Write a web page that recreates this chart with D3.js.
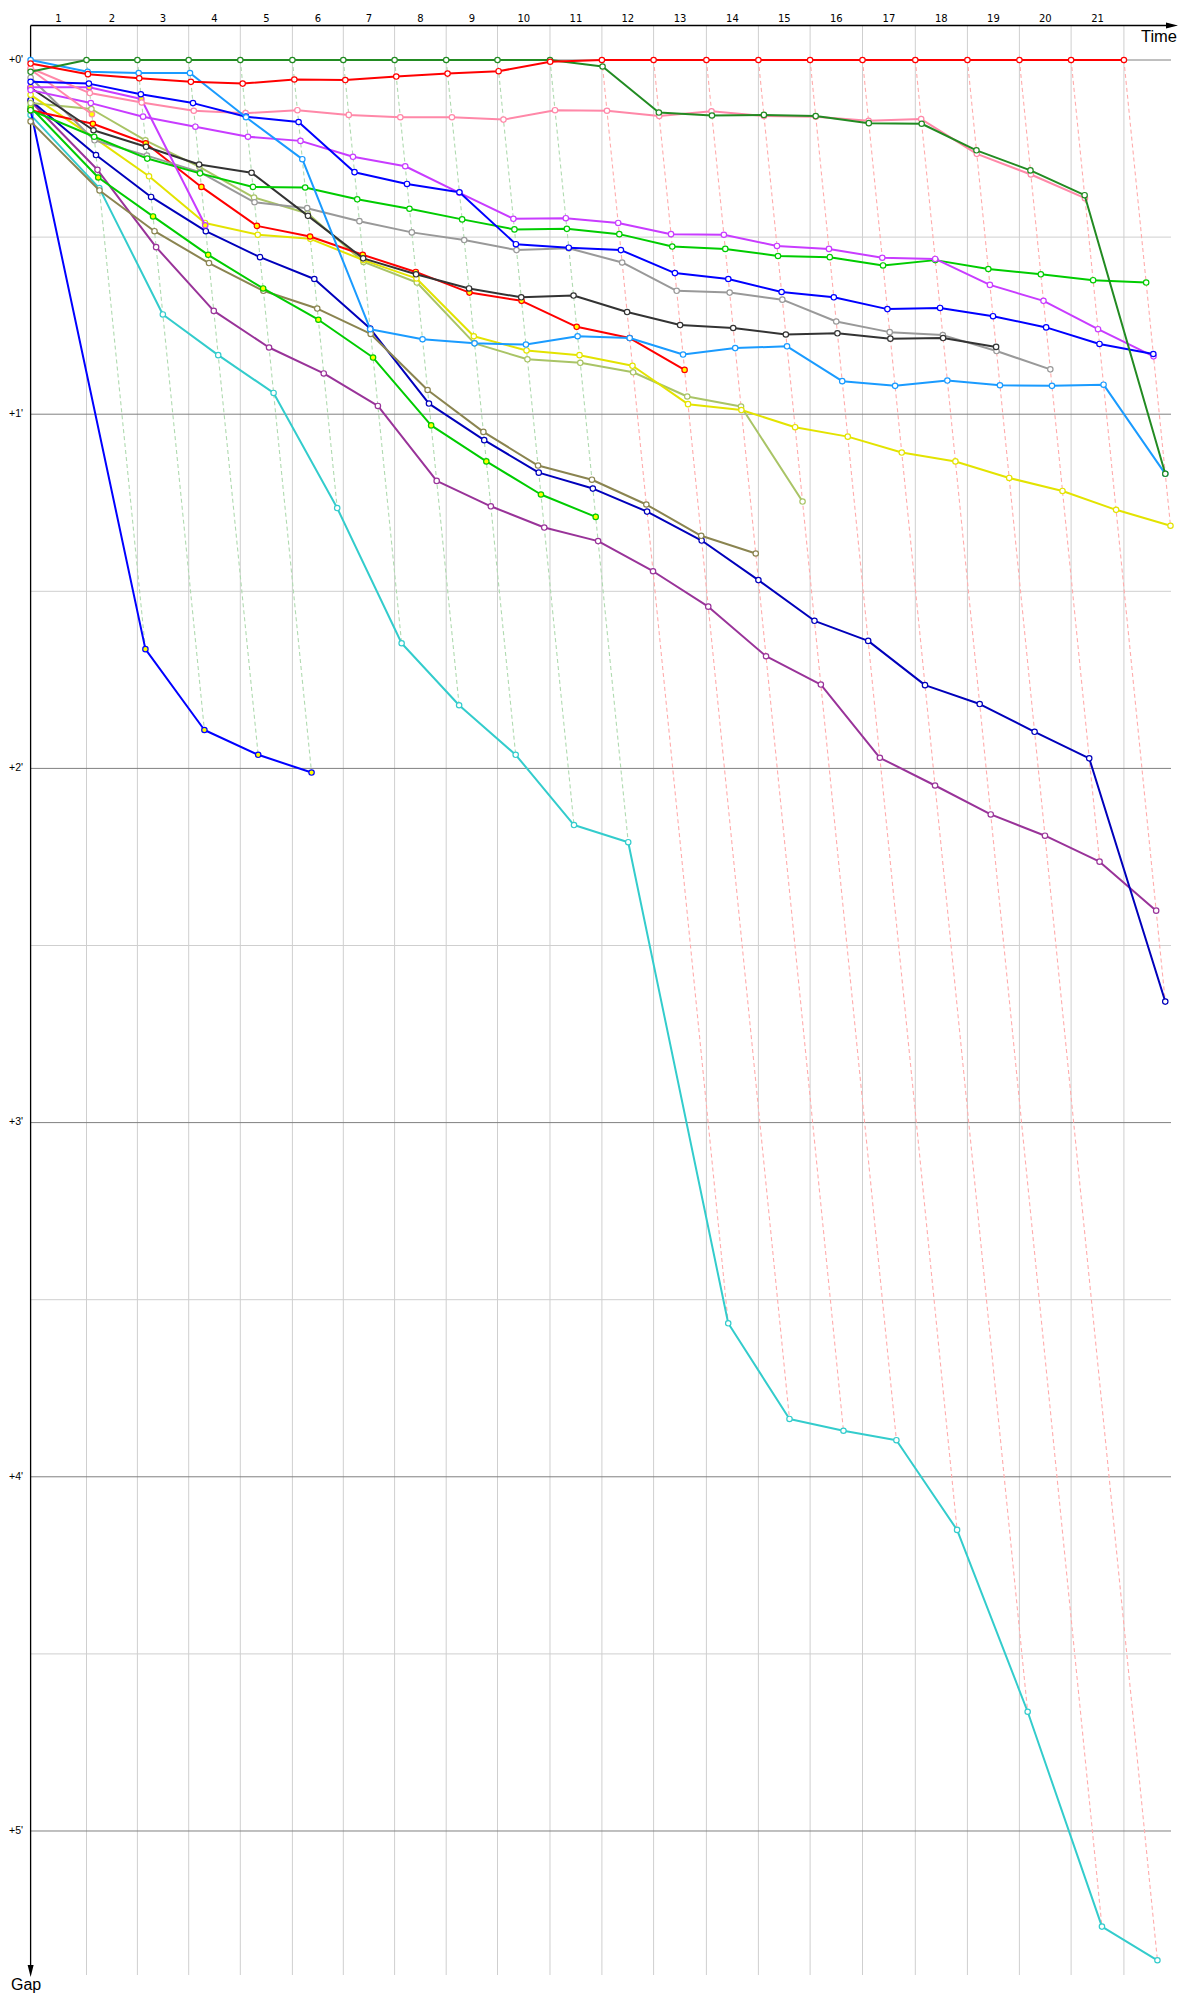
<!DOCTYPE html>
<html><head><meta charset="utf-8">
<script src="https://cdn.jsdelivr.net/npm/d3@7"></script>
<style>body{margin:0;background:#fff}svg{display:block}</style>
</head><body>
<svg id="c" width="1200" height="2000"></svg>
<script>
// ---- data (gaps to leader in seconds; index 0 = start, index k = lap k) ----
const laps = d3.range(1, 22);
const lapLabels = laps.map(String);
const leaderLapTimes = [94.70, 86.23, 86.90, 87.41, 88.26, 86.23, 86.91, 87.41, 86.90, 88.94, 87.92, 87.59, 89.44, 88.09, 87.58, 88.77, 89.45, 88.28, 88.07, 87.59, 89.45];
const minuteTicks = [0, 60, 120, 180, 240, 300];
const minuteLabels = ["+0'", "+1'", "+2'", "+3'", "+4'", "+5'"];
const halfMinuteTicks = [30, 90, 150, 210, 270];

const gapRed = [0.6, 2.4, 3.1, 3.7, 4.0, 3.3, 3.4, 2.8, 2.3, 1.9, 0.3, 0, 0, 0, 0, 0, 0, 0, 0, 0, 0, 0];
const gapDarkGreen = [2.0, 0, 0, 0, 0, 0, 0, 0, 0, 0, 0, 1.1, 8.9, 9.4, 9.3, 9.5, 10.7, 10.8, 15.3, 18.7, 22.9, 70.1];
const gapPink = [1.4, 5.6, 7.2, 8.6, 9.0, 8.5, 9.3, 9.7, 9.7, 10.1, 8.5, 8.6, 9.5, 8.7, 9.5, 9.6, 10.3, 10.0, 15.9, 19.4, 23.4];
const gapLightBlue = [0, 2.0, 2.2, 2.2, 9.7, 16.8, 45.6, 47.3, 48.0, 48.2, 46.8, 47.1, 49.9, 48.8, 48.5, 54.4, 55.2, 54.3, 55.1, 55.2, 55.0, 70.1];
const gapBlue = [3.7, 4.0, 5.8, 7.3, 9.6, 10.5, 19.0, 21.0, 22.4, 31.2, 31.8, 32.2, 36.1, 37.1, 39.3, 40.2, 42.2, 42.0, 43.4, 45.3, 48.1, 49.8];
const gapVioletB = [5.1, 7.3, 9.6, 11.3, 13.0, 13.7, 16.4, 18.0, 22.5, 26.9, 26.8, 27.6, 29.5, 29.6, 31.5, 32.0, 33.5, 33.7, 38.1, 40.8, 45.6, 50.2];
const gapLime = [8.5, 13.0, 16.7, 19.2, 21.5, 21.6, 23.6, 25.2, 27.0, 28.7, 28.6, 29.5, 31.6, 32.0, 33.2, 33.4, 34.8, 33.9, 35.4, 36.3, 37.3, 37.7];
const gapYellow = [5.9, 13.2, 19.7, 27.6, 29.6, 30.3, 33.9, 37.0, 46.8, 49.2, 50.0, 51.8, 58.3, 59.3, 62.2, 63.8, 66.5, 68.0, 70.8, 73.0, 76.2, 78.9];
const gapLightOlive = [7.3, 8.3, 13.6, 18.1, 23.3, 26.0, 34.2, 37.7, 48.0, 50.7, 51.3, 52.9, 57.0, 58.7, 74.8];
const gapOlive = [10.4, 22.1, 29.0, 34.4, 39.1, 42.1, 46.4, 55.9, 63.0, 68.7, 71.1, 75.3, 80.6, 83.6];
const gapBlack = [4.7, 11.9, 14.7, 17.7, 19.1, 26.4, 33.6, 36.3, 38.7, 40.2, 39.9, 42.7, 44.9, 45.4, 46.5, 46.3, 47.2, 47.1, 48.6];
const gapGray = [3.0, 13.6, 16.2, 19.0, 24.1, 25.1, 27.3, 29.2, 30.5, 32.2, 31.9, 34.3, 39.1, 39.4, 40.6, 44.3, 46.1, 46.6, 49.3, 52.4];
const gapNavy = [6.8, 16.1, 23.2, 29.0, 33.4, 37.1, 45.5, 58.2, 64.4, 69.9, 72.6, 76.5, 81.4, 88.1, 95.0, 98.4, 105.9, 109.1, 113.8, 118.3, 159.5];
const gapPurple = [7.0, 18.6, 31.7, 42.5, 48.7, 53.1, 58.6, 71.3, 75.6, 79.2, 81.5, 86.6, 92.6, 101.0, 105.8, 118.2, 122.9, 127.8, 131.4, 135.8, 144.1];
const gapCyan = [9.3, 21.7, 43.1, 50.0, 56.4, 75.9, 98.8, 109.3, 117.7, 129.6, 132.5, 214.0, 230.2, 232.2, 233.8, 249.0, 279.8, 316.2, 321.9];
const gapLime2 = [8.0, 19.9, 26.5, 33.0, 38.7, 44.0, 50.4, 61.9, 68.0, 73.6, 77.4];
const gapRed2 = [8.5, 10.8, 14.1, 21.5, 28.1, 29.9, 33.0, 35.9, 39.4, 40.8, 45.2, 47.1, 52.5];
const gapBlue2 = [8.5, 99.8, 113.5, 117.7, 120.7];
const gapVioletA = [4.6, 4.6, 6.6, 28.0];
const gapPink2 = [1.6, 9.2];

// drawing order (first = bottom)
const cars = [
  {gaps: gapCyan, color: "#33cccc", hi: false},
  {gaps: gapPurple, color: "#993399", hi: false},
  {gaps: gapNavy, color: "#0000bb", hi: false},
  {gaps: gapBlue2, color: "#0000ff", hi: true},
  {gaps: gapOlive, color: "#8a8450", hi: false},
  {gaps: gapLime2, color: "#00cc00", hi: true},
  {gaps: gapLightOlive, color: "#a9c466", hi: false},
  {gaps: gapYellow, color: "#e3e300", hi: false},
  {gaps: gapRed2, color: "#ff0000", hi: true},
  {gaps: gapGray, color: "#999999", hi: false},
  {gaps: gapBlack, color: "#333333", hi: false},
  {gaps: gapLime, color: "#00cc00", hi: false},
  {gaps: gapVioletA, color: "#c83cff", hi: true},
  {gaps: gapVioletB, color: "#c83cff", hi: false},
  {gaps: gapPink2, color: "#ff88a8", hi: true},
  {gaps: gapPink, color: "#ff88a8", hi: false},
  {gaps: gapBlue, color: "#0000ff", hi: false},
  {gaps: gapLightBlue, color: "#1a9bff", hi: false},
  {gaps: gapDarkGreen, color: "#228b22", hi: false},
  {gaps: gapRed, color: "#ff0000", hi: false}
];

// ---- scales ----
const leaderCum = d3.cumsum(leaderLapTimes);
const X0 = 30.6, TOPY = 25.5, BOTY = 1975, RIGHTH = 1171;
const x = d3.scaleLinear().domain([0, 1940]).range([X0, X0 + 1940 * 0.5903]);
const y = d3.scaleLinear().domain([0, 300]).range([60, 60 + 300 * 5.9033]);

const svg = d3.select("#c");

// gridlines
svg.append("g").selectAll("line").data(Array.from(leaderCum)).join("line")
  .attr("x1", d => x(d)).attr("x2", d => x(d)).attr("y1", TOPY).attr("y2", BOTY)
  .attr("stroke", "#cfcfcf").attr("stroke-width", 1);
svg.append("g").selectAll("line").data(halfMinuteTicks).join("line")
  .attr("x1", X0).attr("x2", RIGHTH).attr("y1", d => y(d)).attr("y2", d => y(d))
  .attr("stroke", "#cfcfcf").attr("stroke-width", 1);
svg.append("g").selectAll("line").data(minuteTicks).join("line")
  .attr("x1", X0).attr("x2", RIGHTH).attr("y1", d => y(d)).attr("y2", d => y(d))
  .attr("stroke", "#808080").attr("stroke-width", 1);

// points
function pts(car) {
  return car.gaps.map((g, k) => ({
    lap: k, gap: g,
    px: k === 0 ? x(0) : x(leaderCum[k - 1] + g),
    py: y(g)
  }));
}
cars.forEach(c => c.pts = pts(c));

// lap (dashed) lines
const lapG = svg.append("g");
laps.forEach(k => {
  const p = cars.filter(c => c.gaps.length > k).map(c => c.pts[k]).sort((a, b) => a.py - b.py);
  lapG.append("path")
    .attr("d", d3.line().x(d => d.px).y(d => d.py)(p))
    .attr("fill", "none")
    .attr("stroke", k <= 10 ? "#b0dab0" : "#ffacac")
    .attr("stroke-width", 1.1)
    .attr("stroke-dasharray", "4,3");
});

// axes
svg.append("line").attr("x1", X0).attr("x2", 1166).attr("y1", TOPY).attr("y2", TOPY)
  .attr("stroke", "#000").attr("stroke-width", 1.3);
svg.append("path").attr("d", `M1166,${TOPY - 3}L1178,${TOPY}L1166,${TOPY + 3}Z`).attr("fill", "#000");
svg.append("line").attr("x1", X0).attr("x2", X0).attr("y1", TOPY).attr("y2", 1965)
  .attr("stroke", "#000").attr("stroke-width", 1.3);
svg.append("path").attr("d", `M${X0 - 3},1965L${X0},1977L${X0 + 3},1965Z`).attr("fill", "#000");

// labels
const bounds = [0, ...leaderCum];
svg.append("g").selectAll("text").data(lapLabels).join("text")
  .attr("x", (d, i) => (x(bounds[i]) + x(bounds[i + 1])) / 2)
  .attr("y", 21.5)
  .attr("text-anchor", "middle")
  .attr("font-family", "DejaVu Sans, sans-serif").attr("font-size", 10)
  .text(d => d);
svg.append("g").selectAll("text").data(minuteTicks).join("text")
  .attr("x", 23).attr("y", d => y(d))
  .attr("text-anchor", "end").attr("dominant-baseline", "middle")
  .attr("font-family", "Liberation Sans, Arial, sans-serif").attr("font-size", 10.5)
  .text((d, i) => minuteLabels[i]);
svg.append("text").attr("x", 1177).attr("y", 41.5).attr("text-anchor", "end")
  .attr("font-family", "Liberation Sans, Arial, sans-serif").attr("font-size", 16.5).text("Time");
svg.append("text").attr("x", 11).attr("y", 1990)
  .attr("font-family", "Liberation Sans, Arial, sans-serif").attr("font-size", 16).text("Gap");

// car lines + markers
const line = d3.line().x(d => d.px).y(d => d.py);
cars.forEach(c => {
  const g = svg.append("g");
  g.append("path").attr("d", line(c.pts)).attr("fill", "none")
    .attr("stroke", c.color).attr("stroke-width", 2).attr("stroke-linejoin", "round");
  g.selectAll("circle").data(c.pts).join("circle")
    .attr("cx", d => d.px).attr("cy", d => d.py).attr("r", 2.7)
    .attr("fill", c.hi ? "#ffff00" : "#fff")
    .attr("stroke", c.color).attr("stroke-width", 1.2);
});
</script>
</body></html>
